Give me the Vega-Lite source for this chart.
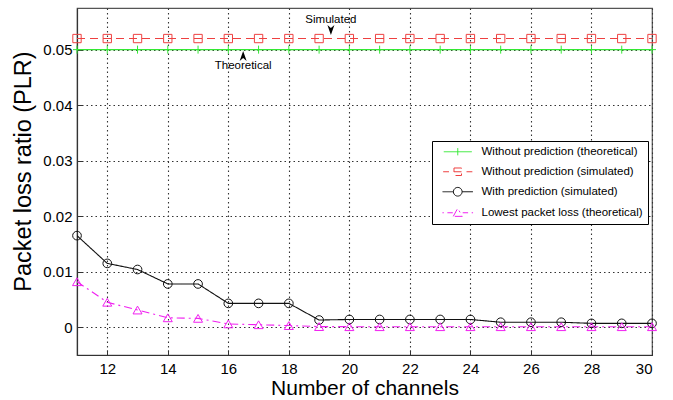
{
  "$schema": "https://vega.github.io/schema/vega-lite/v6.json",
  "width": 575,
  "height": 347,
  "autosize": {"type": "none"},
  "padding": {"left": 77, "top": 8, "right": 21, "bottom": 45},
  "background": "white",
  "config": {
    "font": "Liberation Sans",
    "view": {"stroke": "#555", "strokeWidth": 1.2},
    "axis": {
      "grid": true,
      "labelFont": "Liberation Sans",
      "titleFont": "Liberation Sans",
      "labelFontSize": 15,
      "titleFontSize": 21,
      "titleFontWeight": "normal",
      "labelColor": "#000",
      "titleColor": "#000",
      "domainColor": "#333",
      "domainWidth": 1.2,
      "tickColor": "#333",
      "tickSize": -5,
      "gridColor": "#333",
      "gridDash": [1.5, 3],
      "gridOpacity": 1,
      "gridWidth": 1.1
    }
  },
  "resolve": {"scale": {"shape": "independent"}},
  "datasets": {
    "series": [
      {"series": "Without prediction (theoretical)", "x": 11, "y": 0.05},
      {"series": "Without prediction (theoretical)", "x": 12, "y": 0.05},
      {"series": "Without prediction (theoretical)", "x": 13, "y": 0.05},
      {"series": "Without prediction (theoretical)", "x": 14, "y": 0.05},
      {"series": "Without prediction (theoretical)", "x": 15, "y": 0.05},
      {"series": "Without prediction (theoretical)", "x": 16, "y": 0.05},
      {"series": "Without prediction (theoretical)", "x": 17, "y": 0.05},
      {"series": "Without prediction (theoretical)", "x": 18, "y": 0.05},
      {"series": "Without prediction (theoretical)", "x": 19, "y": 0.05},
      {"series": "Without prediction (theoretical)", "x": 20, "y": 0.05},
      {"series": "Without prediction (theoretical)", "x": 21, "y": 0.05},
      {"series": "Without prediction (theoretical)", "x": 22, "y": 0.05},
      {"series": "Without prediction (theoretical)", "x": 23, "y": 0.05},
      {"series": "Without prediction (theoretical)", "x": 24, "y": 0.05},
      {"series": "Without prediction (theoretical)", "x": 25, "y": 0.05},
      {"series": "Without prediction (theoretical)", "x": 26, "y": 0.05},
      {"series": "Without prediction (theoretical)", "x": 27, "y": 0.05},
      {"series": "Without prediction (theoretical)", "x": 28, "y": 0.05},
      {"series": "Without prediction (theoretical)", "x": 29, "y": 0.05},
      {"series": "Without prediction (theoretical)", "x": 30, "y": 0.05},
      {"series": "Without prediction (simulated)", "x": 11, "y": 0.052},
      {"series": "Without prediction (simulated)", "x": 12, "y": 0.052},
      {"series": "Without prediction (simulated)", "x": 13, "y": 0.052},
      {"series": "Without prediction (simulated)", "x": 14, "y": 0.052},
      {"series": "Without prediction (simulated)", "x": 15, "y": 0.052},
      {"series": "Without prediction (simulated)", "x": 16, "y": 0.052},
      {"series": "Without prediction (simulated)", "x": 17, "y": 0.052},
      {"series": "Without prediction (simulated)", "x": 18, "y": 0.052},
      {"series": "Without prediction (simulated)", "x": 19, "y": 0.052},
      {"series": "Without prediction (simulated)", "x": 20, "y": 0.052},
      {"series": "Without prediction (simulated)", "x": 21, "y": 0.052},
      {"series": "Without prediction (simulated)", "x": 22, "y": 0.052},
      {"series": "Without prediction (simulated)", "x": 23, "y": 0.052},
      {"series": "Without prediction (simulated)", "x": 24, "y": 0.052},
      {"series": "Without prediction (simulated)", "x": 25, "y": 0.052},
      {"series": "Without prediction (simulated)", "x": 26, "y": 0.052},
      {"series": "Without prediction (simulated)", "x": 27, "y": 0.052},
      {"series": "Without prediction (simulated)", "x": 28, "y": 0.052},
      {"series": "Without prediction (simulated)", "x": 29, "y": 0.052},
      {"series": "Without prediction (simulated)", "x": 30, "y": 0.052},
      {"series": "With prediction (simulated)", "x": 11, "y": 0.0165},
      {"series": "With prediction (simulated)", "x": 12, "y": 0.0115},
      {"series": "With prediction (simulated)", "x": 13, "y": 0.0104},
      {"series": "With prediction (simulated)", "x": 14, "y": 0.0078},
      {"series": "With prediction (simulated)", "x": 15, "y": 0.0078},
      {"series": "With prediction (simulated)", "x": 16, "y": 0.0043},
      {"series": "With prediction (simulated)", "x": 17, "y": 0.0043},
      {"series": "With prediction (simulated)", "x": 18, "y": 0.0043},
      {"series": "With prediction (simulated)", "x": 19, "y": 0.0013},
      {"series": "With prediction (simulated)", "x": 20, "y": 0.0014},
      {"series": "With prediction (simulated)", "x": 21, "y": 0.0014},
      {"series": "With prediction (simulated)", "x": 22, "y": 0.0014},
      {"series": "With prediction (simulated)", "x": 23, "y": 0.0014},
      {"series": "With prediction (simulated)", "x": 24, "y": 0.0014},
      {"series": "With prediction (simulated)", "x": 25, "y": 0.0009},
      {"series": "With prediction (simulated)", "x": 26, "y": 0.0009},
      {"series": "With prediction (simulated)", "x": 27, "y": 0.0009},
      {"series": "With prediction (simulated)", "x": 28, "y": 0.0007},
      {"series": "With prediction (simulated)", "x": 29, "y": 0.0007},
      {"series": "With prediction (simulated)", "x": 30, "y": 0.0007},
      {"series": "Lowest packet loss (theoretical)", "x": 11, "y": 0.0082},
      {"series": "Lowest packet loss (theoretical)", "x": 12, "y": 0.0045},
      {"series": "Lowest packet loss (theoretical)", "x": 13, "y": 0.0031},
      {"series": "Lowest packet loss (theoretical)", "x": 14, "y": 0.0017},
      {"series": "Lowest packet loss (theoretical)", "x": 15, "y": 0.0016},
      {"series": "Lowest packet loss (theoretical)", "x": 16, "y": 0.0006},
      {"series": "Lowest packet loss (theoretical)", "x": 17, "y": 0.00045},
      {"series": "Lowest packet loss (theoretical)", "x": 18, "y": 0.0003},
      {"series": "Lowest packet loss (theoretical)", "x": 19, "y": 0.00012},
      {"series": "Lowest packet loss (theoretical)", "x": 20, "y": 0.0001},
      {"series": "Lowest packet loss (theoretical)", "x": 21, "y": 0.0001},
      {"series": "Lowest packet loss (theoretical)", "x": 22, "y": 0.0001},
      {"series": "Lowest packet loss (theoretical)", "x": 23, "y": 0.0001},
      {"series": "Lowest packet loss (theoretical)", "x": 24, "y": 0.0001},
      {"series": "Lowest packet loss (theoretical)", "x": 25, "y": 0.0001},
      {"series": "Lowest packet loss (theoretical)", "x": 26, "y": 0.0001},
      {"series": "Lowest packet loss (theoretical)", "x": 27, "y": 0.0001},
      {"series": "Lowest packet loss (theoretical)", "x": 28, "y": 0.0001},
      {"series": "Lowest packet loss (theoretical)", "x": 29, "y": 0.0001},
      {"series": "Lowest packet loss (theoretical)", "x": 30, "y": 0.0001}
    ],
    "notes": [
      {"label": "Simulated", "x": 19.39, "y": 0.0553, "ay": 0.05354, "dir": "down"},
      {"label": "Theoretical", "x": 16.49, "y": 0.04705, "ay": 0.04885, "dir": "up"}
    ]
  },
  "layer": [
    {
      "data": {"name": "series"},
      "mark": {"type": "line", "strokeWidth": 1.1, "clip": true},
      "encoding": {
        "x": {
          "field": "x", "type": "quantitative",
          "scale": {"domain": [11, 30], "nice": false, "zero": false},
          "axis": {"grid": true, "values": [12, 14, 16, 18, 20, 22, 24, 26, 28, 30], "format": "d", "title": "Number of channels", "labelPadding": 11, "titlePadding": 1}
        },
        "y": {
          "field": "y", "type": "quantitative",
          "scale": {"domain": [-0.005, 0.0575], "nice": false, "zero": false},
          "axis": {"grid": true, "values": [0, 0.01, 0.02, 0.03, 0.04, 0.05], "labelExpr": "datum.value == 0 ? '0' : format(datum.value, '.2f')", "title": "Packet loss ratio (PLR)", "titleFontSize": 23.5, "labelPadding": 10, "titlePadding": 7, "titleY": 163}
        },
        "color": {
          "field": "series", "type": "nominal",
          "scale": {
            "domain": ["Without prediction (theoretical)", "Without prediction (simulated)", "With prediction (simulated)", "Lowest packet loss (theoretical)"],
            "range": ["#33e833", "#ee4040", "#111111", "#f020f0"]
          },
          "legend": {
            "title": null,
            "orient": "none",
            "legendX": 355,
            "legendY": 133,
            "padding": 5,
            "fillColor": "white",
            "strokeColor": "#000",
            "labelFont": "Liberation Sans",
            "labelFontSize": 11.5,
            "labelColor": "#000",
            "labelLimit": 300,
            "symbolSize": 100,
            "symbolStrokeWidth": 1,
            "symbolOffset": 15,
            "labelOffset": 18,
            "rowPadding": 7,
            "encode": {
              "symbols": {
                "update": {
                  "shape": {"signal": "datum.value == 'Without prediction (theoretical)' ? 'M-3.5,0H3.5M0,-0.9V0.9' : datum.value == 'Without prediction (simulated)' ? 'M-3.5,0H-2.1M-0.9,-0.9H0.9V0.9H-0.9ZM-0.9,0H0.9M2.1,0H3.5' : datum.value == 'With prediction (simulated)' ? 'M-3.5,0H-1M1,0H3.5M1,0A1,1,0,1,1,-1,0A1,1,0,1,1,1,0' : 'M-3.4,0H-3.1M-2.3,0H-1.1M1.1,0H2.3M3.1,0H3.4M-1,0.8L0,-1L1,0.8Z'"},
                  "fill": {"value": "transparent"},
                  "strokeDash": {"value": [1, 0]},
                  "opacity": {"value": 1}
                }
              }
            }
          }
        },
        "strokeDash": {
          "field": "series", "type": "nominal",
          "scale": {
            "domain": ["Without prediction (theoretical)", "Without prediction (simulated)", "With prediction (simulated)", "Lowest packet loss (theoretical)"],
            "range": [[1, 0], [8, 5], [1, 0], [8, 4, 2, 4]]
          },
          "legend": null
        }
      }
    },
    {
      "data": {"name": "series"},
      "mark": {"type": "point", "filled": false, "strokeWidth": 1, "opacity": 1, "clip": false},
      "encoding": {
        "x": {"field": "x", "type": "quantitative"},
        "y": {"field": "y", "type": "quantitative"},
        "color": {"field": "series", "type": "nominal"},
        "shape": {
          "field": "series", "type": "nominal",
          "scale": {
            "domain": ["Without prediction (theoretical)", "Without prediction (simulated)", "With prediction (simulated)", "Lowest packet loss (theoretical)"],
            "range": ["M0,-1V1M-1,0H1", "square", "circle", "triangle-up"]
          },
          "legend": null
        },
        "size": {
          "field": "series", "type": "nominal",
          "scale": {
            "domain": ["Without prediction (theoretical)", "Without prediction (simulated)", "With prediction (simulated)", "Lowest packet loss (theoretical)"],
            "range": [64, 81, 110, 100]
          },
          "legend": null
        }
      }
    },
    {
      "data": {"name": "notes"},
      "mark": {"type": "text", "font": "Liberation Sans", "fontSize": 11.5, "color": "#000", "baseline": "middle", "align": "center"},
      "encoding": {
        "x": {"field": "x", "type": "quantitative"},
        "y": {"field": "y", "type": "quantitative"},
        "text": {"field": "label"}
      }
    },
    {
      "data": {"name": "notes"},
      "mark": {"type": "point", "filled": true, "color": "#000", "strokeWidth": 0, "size": 100, "opacity": 1},
      "encoding": {
        "x": {"field": "x", "type": "quantitative"},
        "y": {"field": "ay", "type": "quantitative"},
        "shape": {
          "field": "dir", "type": "nominal",
          "scale": {"domain": ["down", "up"], "range": ["M0,1L-0.7,-1L0,-0.4L0.7,-1Z", "M0,-1L-0.7,1L0,0.4L0.7,1Z"]},
          "legend": null
        }
      }
    }
  ]
}
